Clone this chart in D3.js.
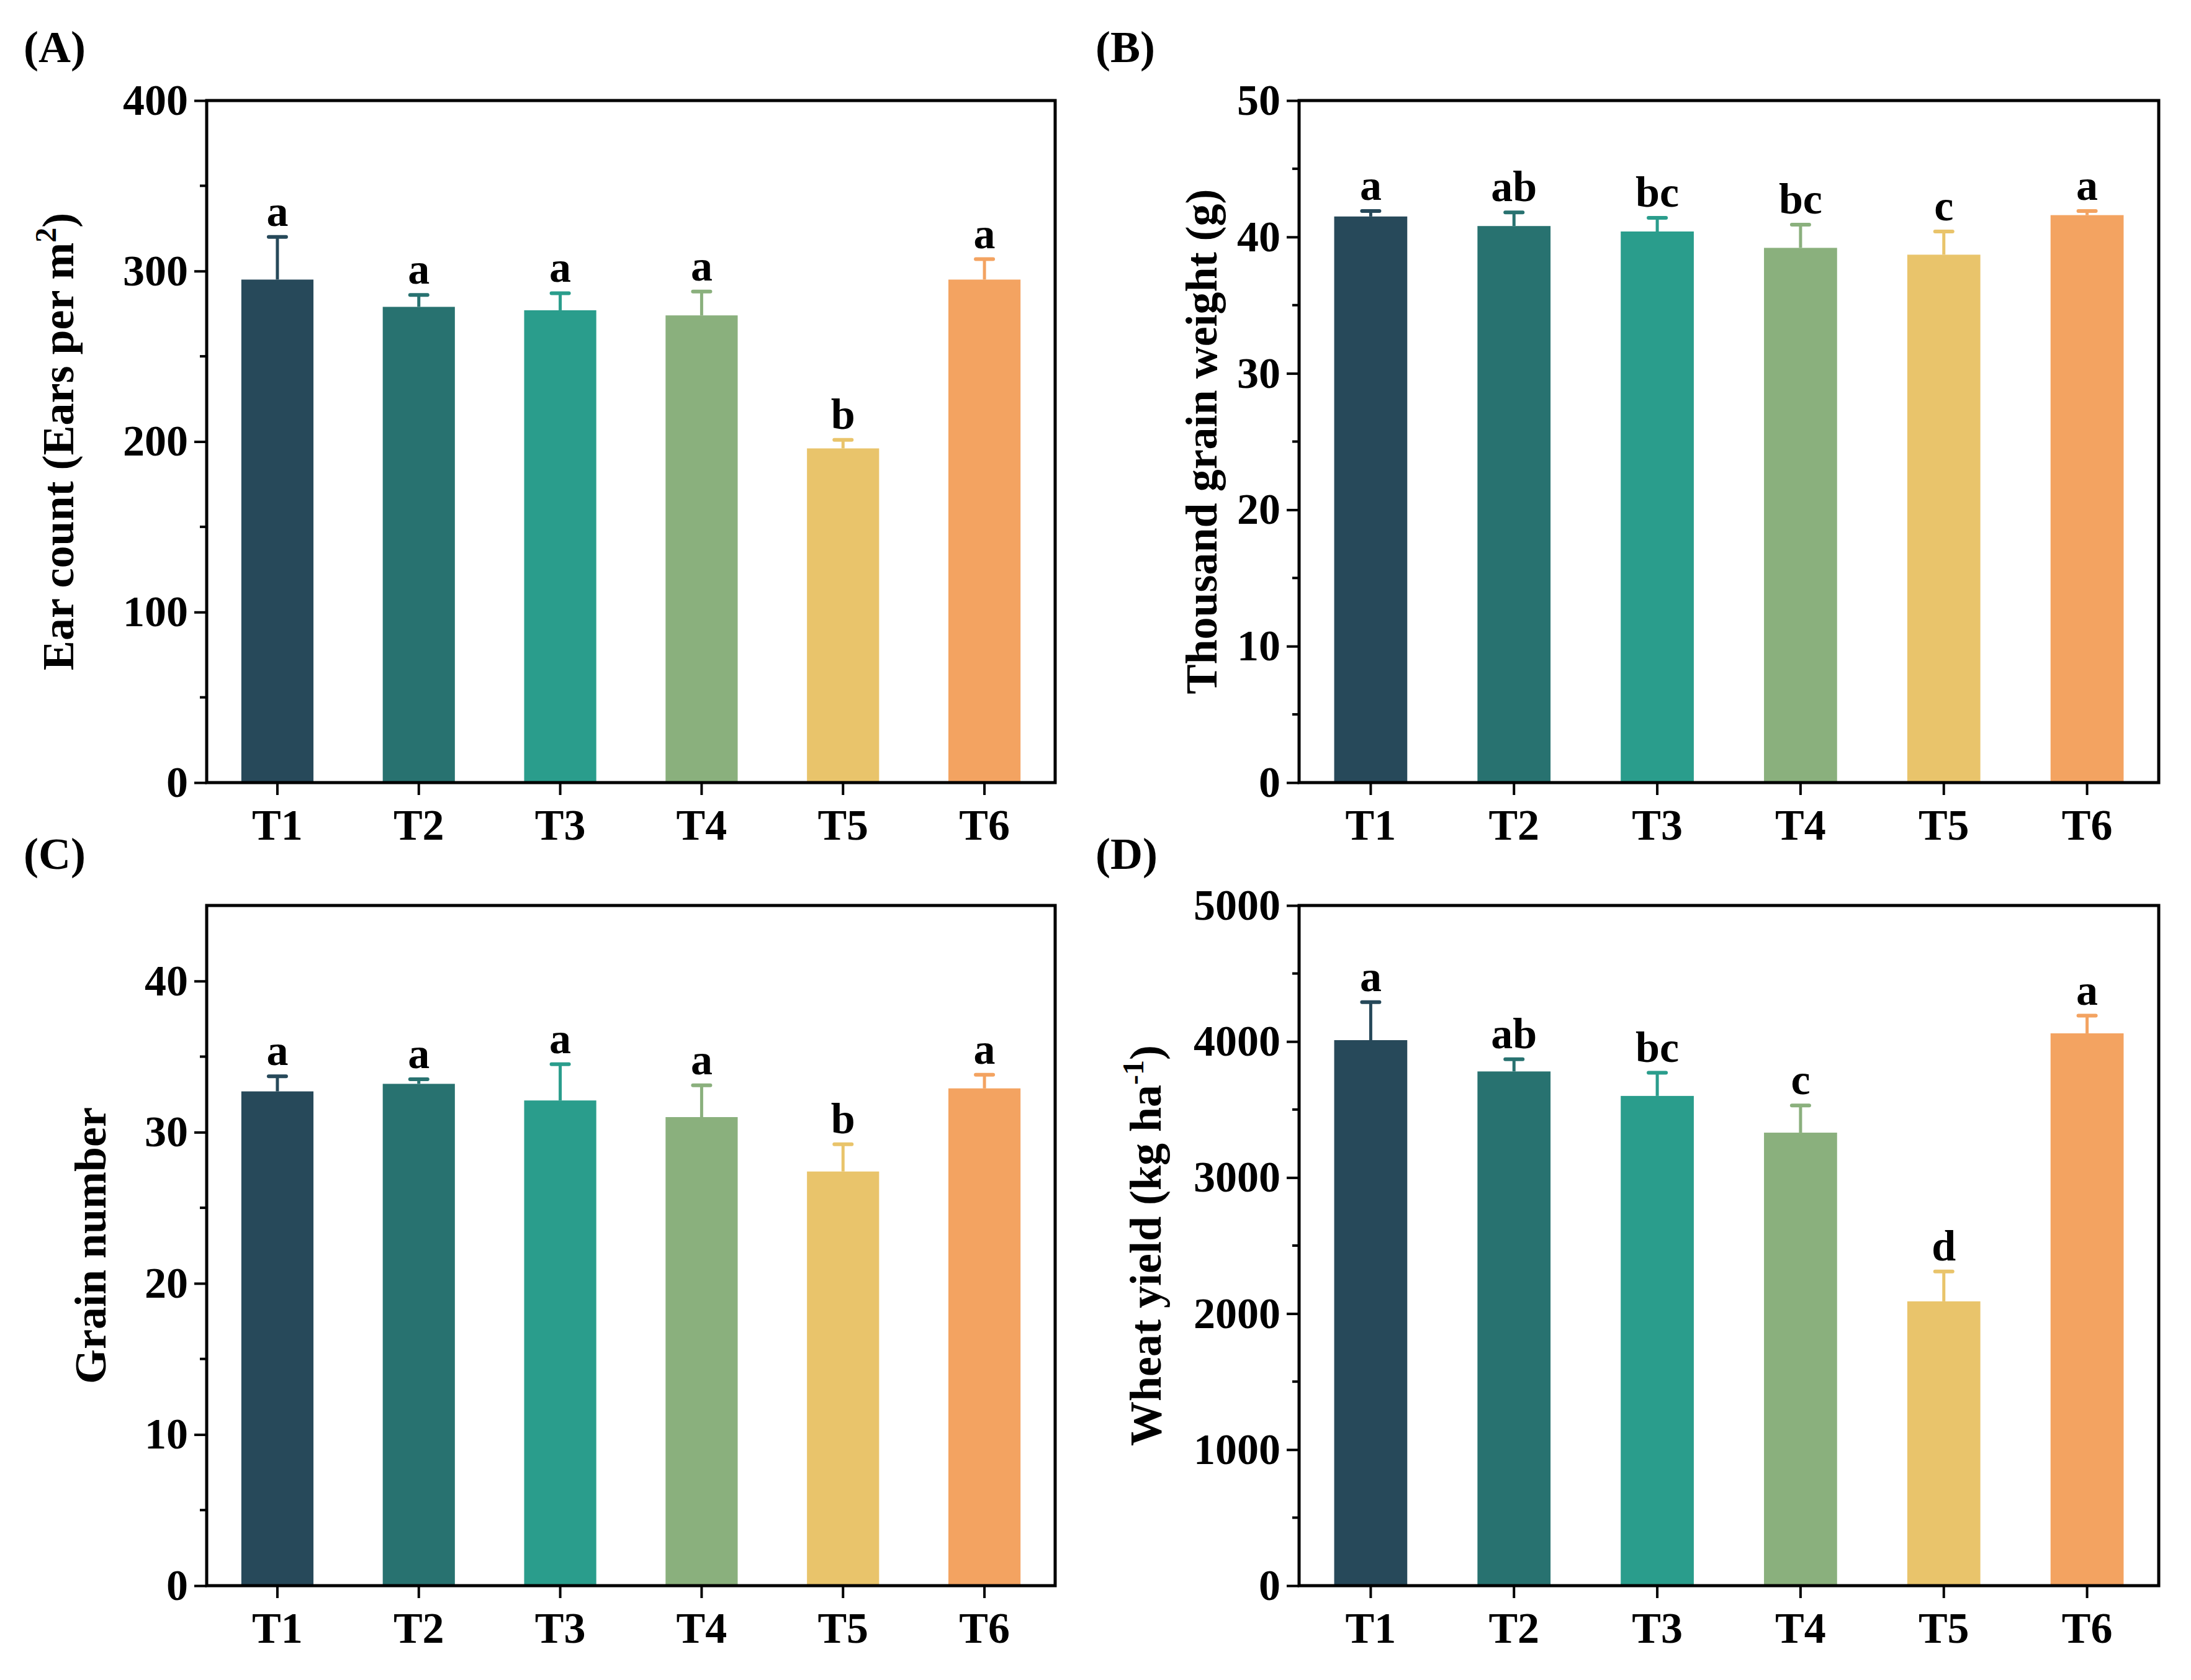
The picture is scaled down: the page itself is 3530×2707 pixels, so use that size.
<!DOCTYPE html>
<html><head><meta charset="utf-8">
<script src="https://cdn.jsdelivr.net/npm/d3@7"></script>
<style>body{margin:0;background:#fff}</style></head>
<body><svg id="c" width="3530" height="2707"></svg>
<script>
const categories=["T1","T2","T3","T4","T5","T6"];
const colors=["#27495A","#287270","#2A9D8C","#8AB07D","#E9C46B","#F3A361"];
const earVals=[295,279,277,274,196,295], earErr=[25,7,10,14,5,12], earLet=["a","a","a","a","b","a"];
const tgwVals=[41.5,40.8,40.4,39.2,38.7,41.6], tgwErr=[0.4,1.0,1.0,1.7,1.7,0.3], tgwLet=["a","ab","bc","bc","c","a"];
const gnVals=[32.7,33.2,32.1,31.0,27.4,32.9], gnErr=[1.0,0.3,2.4,2.1,1.8,0.9], gnLet=["a","a","a","a","b","a"];
const ydVals=[4010,3780,3600,3330,2090,4060], ydErr=[280,90,170,200,220,130], ydLet=["a","ab","bc","c","d","a"];
const earTicks=[0,100,200,300,400], tgwTicks=[0,10,20,30,40,50], gnTicks=[0,10,20,30,40], ydTicks=[0,1000,2000,3000,4000,5000];

const svg=d3.select("#c");
const F="'Liberation Serif','Times New Roman',serif";
function panel(o){
  const g=svg.append("g");
  const x=d3.scaleBand().domain(categories).range([o.x0,o.x1]).paddingInner(0.49).paddingOuter(0.245);
  const y=d3.scaleLinear().domain([0,o.max]).range([o.y1,o.y0]);
  // bars
  categories.forEach((c,i)=>{
    const cx=x(c)+x.bandwidth()/2, top=y(o.vals[i]+o.err[i]);
    g.append("line").attr("x1",cx).attr("x2",cx).attr("y1",y(o.vals[i])).attr("y2",top).attr("stroke",colors[i]).attr("stroke-width",5);
    g.append("line").attr("x1",cx-14).attr("x2",cx+14).attr("y1",top).attr("y2",top).attr("stroke",colors[i]).attr("stroke-width",6).attr("stroke-linecap","round");
    g.append("rect").attr("x",x(c)).attr("width",x.bandwidth()).attr("y",y(o.vals[i])).attr("height",y(0)-y(o.vals[i])).attr("fill",colors[i]);
    g.append("text").attr("x",cx).attr("y",top-18).attr("text-anchor","middle").attr("font-family",F).attr("font-weight","bold").attr("font-size",70).text(o.let[i]);
  });
  // minor ticks
  const minors=d3.range(o.minor,o.max,o.minor*2);
  g.selectAll(".mn").data(minors).enter().append("line").attr("x1",o.x0).attr("x2",o.x0-11).attr("y1",d=>y(d)).attr("y2",d=>y(d)).attr("stroke","#000").attr("stroke-width",4);
  const ya=g.append("g").attr("transform",`translate(${o.x0},0)`).call(d3.axisLeft(y).tickValues(o.ticks).tickSize(20).tickPadding(10).tickFormat(d3.format("d")));
  const xa=g.append("g").attr("transform",`translate(0,${o.y1})`).call(d3.axisBottom(x).tickSize(20).tickPadding(22));
  [ya,xa].forEach(a=>{a.select(".domain").remove();a.selectAll("line").attr("stroke-width",4);a.selectAll("text").attr("font-family",F).attr("font-weight","bold").attr("font-size",70).attr("fill","#000");});
  g.append("rect").attr("x",o.x0).attr("y",o.y0).attr("width",o.x1-o.x0).attr("height",o.y1-o.y0).attr("fill","none").attr("stroke","#000").attr("stroke-width",5);
  const t=g.append("text").attr("transform",`translate(${o.lx},${(o.y0+o.y1)/2}) rotate(-90)`).attr("text-anchor","middle").attr("font-family",F).attr("font-weight","bold").attr("font-size",72);
  o.label(t);
  g.append("text").attr("x",o.px).attr("y",o.py).attr("font-family",F).attr("font-weight","bold").attr("font-size",72).text(o.tag);
}
panel({x0:333,x1:1700,y0:162,y1:1261,max:400,ticks:earTicks,minor:50,vals:earVals,err:earErr,let:earLet,lx:118,px:38,py:100,tag:"(A)",
  label:t=>{t.append("tspan").text("Ear count (Ears per m");t.append("tspan").attr("dy",-28).attr("font-size",48).text("2");t.append("tspan").attr("dy",28).text(")");}});
panel({x0:2093,x1:3478,y0:162,y1:1261,max:50,ticks:tgwTicks,minor:5,vals:tgwVals,err:tgwErr,let:tgwLet,lx:1960,px:1765,py:100,tag:"(B)",
  label:t=>t.text("Thousand grain weight (g)")});
panel({x0:333,x1:1700,y0:1459,y1:2555,max:45,ticks:gnTicks,minor:5,vals:gnVals,err:gnErr,let:gnLet,lx:170,px:38,py:1400,tag:"(C)",
  label:t=>t.text("Grain number")});
panel({x0:2093,x1:3478,y0:1459,y1:2555,max:5000,ticks:ydTicks,minor:500,vals:ydVals,err:ydErr,let:ydLet,lx:1870,px:1765,py:1400,tag:"(D)",
  label:t=>{t.append("tspan").text("Wheat yield (kg ha");t.append("tspan").attr("dy",-28).attr("font-size",48).text("-1");t.append("tspan").attr("dy",28).text(")");}});
</script></body></html>
